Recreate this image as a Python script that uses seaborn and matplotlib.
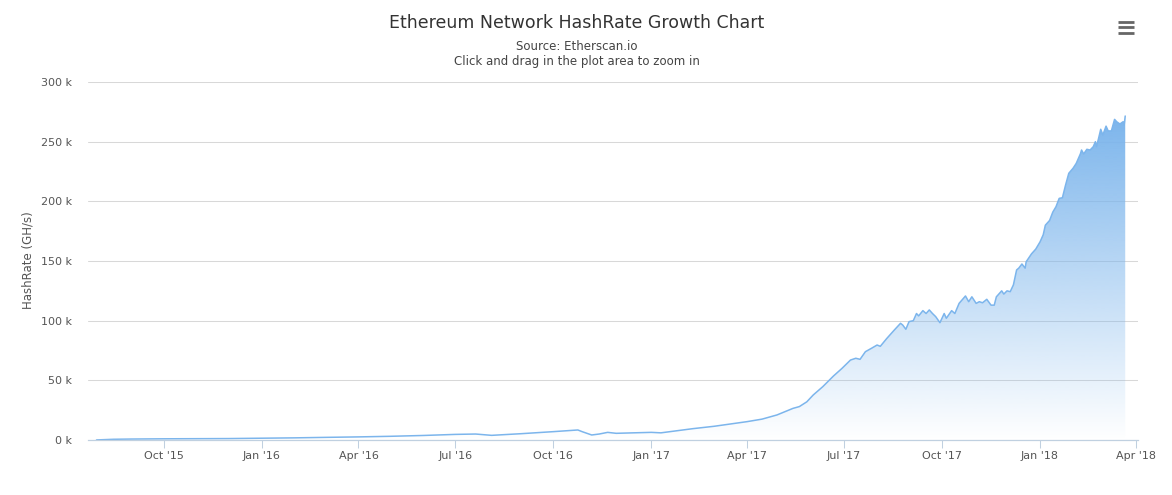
import numpy as np
import pandas as pd
import matplotlib
matplotlib.use("Agg")
import matplotlib.pyplot as plt
import matplotlib.dates as mdates
from matplotlib.colors import to_rgb
from matplotlib.lines import Line2D
import seaborn as sns

# ---------------- data ----------------
dates = [
    "2015-07-30", "2015-08-15", "2015-09-01", "2015-10-01", "2015-11-01", "2015-12-01",
    "2016-01-01", "2016-02-01", "2016-03-01", "2016-04-01", "2016-05-01", "2016-06-01",
    "2016-07-01", "2016-07-20", "2016-08-04", "2016-09-01", "2016-10-01", "2016-10-24",
    "2016-10-28", "2016-11-06", "2016-11-13", "2016-11-21", "2016-11-29", "2016-12-15",
    "2017-01-01", "2017-01-10", "2017-02-09", "2017-03-01", "2017-04-01", "2017-04-15",
    "2017-04-29", "2017-05-14", "2017-05-20", "2017-05-27", "2017-06-02", "2017-06-11",
    "2017-06-21", "2017-06-29", "2017-07-07", "2017-07-12", "2017-07-16", "2017-07-21",
    "2017-07-27", "2017-08-01", "2017-08-04", "2017-08-10", "2017-08-17", "2017-08-23",
    "2017-08-25", "2017-08-28", "2017-08-31", "2017-09-04", "2017-09-07", "2017-09-09",
    "2017-09-13", "2017-09-16", "2017-09-19", "2017-09-22", "2017-09-25", "2017-09-29",
    "2017-10-03", "2017-10-05", "2017-10-10", "2017-10-13", "2017-10-17", "2017-10-23",
    "2017-10-26", "2017-10-29", "2017-11-02", "2017-11-05", "2017-11-08", "2017-11-12",
    "2017-11-16", "2017-11-19", "2017-11-21", "2017-11-26", "2017-11-28", "2017-12-01",
    "2017-12-04", "2017-12-07", "2017-12-10", "2017-12-12", "2017-12-15", "2017-12-18",
    "2017-12-19", "2017-12-24", "2017-12-28", "2018-01-01", "2018-01-04", "2018-01-06",
    "2018-01-10", "2018-01-13", "2018-01-16", "2018-01-19", "2018-01-22", "2018-01-25",
    "2018-01-28", "2018-02-01", "2018-02-04", "2018-02-08", "2018-02-09", "2018-02-11",
    "2018-02-14", "2018-02-17", "2018-02-20", "2018-02-22", "2018-02-23", "2018-02-25",
    "2018-02-27", "2018-03-01", "2018-03-04", "2018-03-06", "2018-03-09", "2018-03-12",
    "2018-03-14", "2018-03-17", "2018-03-20", "2018-03-21", "2018-03-22",
]
hashrate_k = [
    0.05, 0.6, 0.8, 1.0, 1.1, 1.2,
    1.5, 1.8, 2.2, 2.6, 3.1, 3.8,
    4.7, 5.0, 3.9, 5.3, 7.0, 8.4,
    7.0, 4.2, 5.0, 6.4, 5.6, 6.0,
    6.4, 6.0, 9.5, 11.5, 15.4, 17.5,
    21.0, 26.5, 28.0, 32.0, 37.7, 44.7,
    53.6, 60.0, 67.0, 68.5, 67.6, 74.0,
    77.0, 79.6, 78.5, 85.0, 92.0, 97.8,
    96.4, 92.8, 99.2, 100.0, 106.0, 104.0,
    108.4, 106.0, 109.0, 106.0, 103.4, 98.3,
    106.0, 102.0, 108.4, 106.0, 114.5, 120.7,
    115.9, 120.0, 114.5, 115.9, 115.0, 117.9,
    113.0, 113.0, 120.0, 125.0, 122.3, 125.0,
    124.3, 130.0, 142.5, 144.0, 147.5, 144.0,
    149.4, 156.0, 160.0, 166.0, 172.0, 180.0,
    184.0, 191.0, 195.5, 202.5, 203.0, 213.7,
    223.5, 227.7, 231.8, 240.0, 243.0, 239.7,
    243.6, 243.0, 245.8, 250.0, 245.8, 252.8,
    260.4, 255.6, 263.0, 259.0, 259.0, 268.7,
    266.7, 264.8, 266.7, 264.0, 271.5,
]
y_ticks = [0, 50, 100, 150, 200, 250, 300]
y_tick_labels = ["0 k", "50 k", "100 k", "150 k", "200 k", "250 k", "300 k"]
x_tick_dates = ["2015-10-01", "2016-01-01", "2016-04-01", "2016-07-01", "2016-10-01",
                "2017-01-01", "2017-04-01", "2017-07-01", "2017-10-01", "2018-01-01",
                "2018-04-01"]
x_tick_labels = ["Oct '15", "Jan '16", "Apr '16", "Jul '16", "Oct '16", "Jan '17",
                 "Apr '17", "Jul '17", "Oct '17", "Jan '18", "Apr '18"]
x_range = ["2015-07-22", "2018-04-03"]

title = "Ethereum Network HashRate Growth Chart"
subtitle1 = "Source: Etherscan.io"
subtitle2 = "Click and drag in the plot area to zoom in"
y_label = "HashRate (GH/s)"

# ---------------- style ----------------
sns.set_theme(style="white")
plt.rcParams["font.family"] = ["DejaVu Sans"]

W, H = 1172, 495
fig = plt.figure(figsize=(W / 100, H / 100), dpi=100)
fig.patch.set_facecolor("white")
L, R, T, B = 88, 1138, 82, 440
ax = fig.add_axes([L / W, 1 - B / H, (R - L) / W, (B - T) / H])

df = pd.DataFrame({"date": pd.to_datetime(dates), "hashrate": hashrate_k})
line_color = "#7cb5ec"

sns.lineplot(data=df, x="date", y="hashrate", color=line_color, lw=1.1, ax=ax, zorder=4)

# gradient area fill
poly = ax.fill_between(df["date"], df["hashrate"], 0, color="none", lw=0)
xnum = mdates.date2num(df["date"])
ymax = max(hashrate_k)
n = 512
rgba = np.zeros((n, 1, 4))
rgba[..., :3] = to_rgb(line_color)
rgba[:, 0, 3] = np.linspace(1.0, 0.0, n)
im = ax.imshow(rgba, extent=[xnum.min(), xnum.max(), 0, ymax], aspect="auto",
               origin="upper", zorder=3, interpolation="bilinear")
im.set_clip_path(poly.get_paths()[0], transform=ax.transData)

ax.set_xlim(pd.to_datetime(x_range[0]), pd.to_datetime(x_range[1]))
ax.set_ylim(0, 300)

ax.set_yticks(y_ticks)
ax.set_yticklabels(y_tick_labels)
ax.set_xticks(pd.to_datetime(x_tick_dates))
ax.set_xticklabels(x_tick_labels)

ax.yaxis.grid(True, color="#d8d8d8", lw=0.75)
ax.xaxis.grid(False)
ax.set_axisbelow(True)
for s in ["top", "right", "left"]:
    ax.spines[s].set_visible(False)
ax.spines["bottom"].set_color("#c0d0e0")
ax.spines["bottom"].set_linewidth(0.9)
ax.spines["bottom"].set_zorder(5)

ax.tick_params(axis="y", length=0, pad=11.5, labelsize=8, labelcolor="#555555")
ax.tick_params(axis="x", length=5.5, width=0.75, color="#c0d0e0", pad=2.5,
               labelsize=8, labelcolor="#555555", bottom=True)
ax.set_xlabel("")
ax.set_ylabel("")

fig.text(577 / W, 1 - 23 / H, title, ha="center", va="center", fontsize=12.5, color="#333333")
fig.text(577 / W, 1 - 46 / H, subtitle1, ha="center", va="center", fontsize=8.5, color="#444444")
fig.text(577 / W, 1 - 61 / H, subtitle2, ha="center", va="center", fontsize=8.5, color="#444444")
fig.text(28 / W, 1 - 260 / H, y_label, ha="center", va="center", rotation=90,
         fontsize=8.5, color="#555555")

# export menu icon
for yy in (21.7, 27.3, 33.0):
    fig.add_artist(Line2D([1118 / W, 1134 / W], [1 - yy / H, 1 - yy / H],
                          color="#666666", lw=2.0, solid_capstyle="butt"))

fig.savefig("out.png", dpi=100, facecolor="white")
